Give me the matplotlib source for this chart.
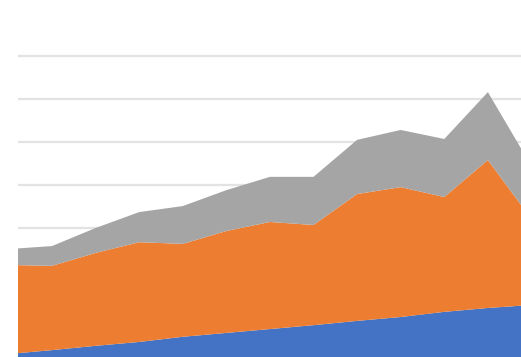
import matplotlib
matplotlib.use("Agg")
import matplotlib.pyplot as plt
import numpy as np

# Category positions (index) and series values (stacked)
categories = list(range(13))
series_blue = [0.7, 1.6, 2.6, 3.5, 4.7, 5.6, 6.5, 7.4, 8.4, 9.3, 10.5, 11.4, 12.1]
series_orange = [20.7, 19.6, 21.6, 23.2, 21.6, 23.7, 24.9, 23.3, 29.5, 30.2, 26.7, 34.4, 20.0]
series_grey = [3.7, 4.6, 5.8, 7.0, 8.8, 9.5, 10.5, 11.2, 12.6, 13.3, 13.5, 15.8, 12.3]
grid_values = [10, 20, 30, 40, 50, 60, 70]

colors = ["#4472C4", "#ED7D31", "#A5A5A5"]

fig = plt.figure(figsize=(5.21, 3.57), dpi=100)
ax = fig.add_axes([18 / 521, 0, 1 - 18 / 521, 1])
ax.stackplot(categories, series_blue, series_orange, series_grey, colors=colors, zorder=2)

ax.set_xlim(0.22, 11.76)
ax.set_ylim(0, 357 / 4.3)
ax.set_yticks(grid_values)
ax.yaxis.grid(True, color="#e3e3e3", linewidth=1.6, zorder=0)
ax.set_axisbelow(True)
ax.tick_params(left=False, bottom=False, labelleft=False, labelbottom=False)
for s in ax.spines.values():
    s.set_visible(False)

fig.savefig("out.png", dpi=100)
